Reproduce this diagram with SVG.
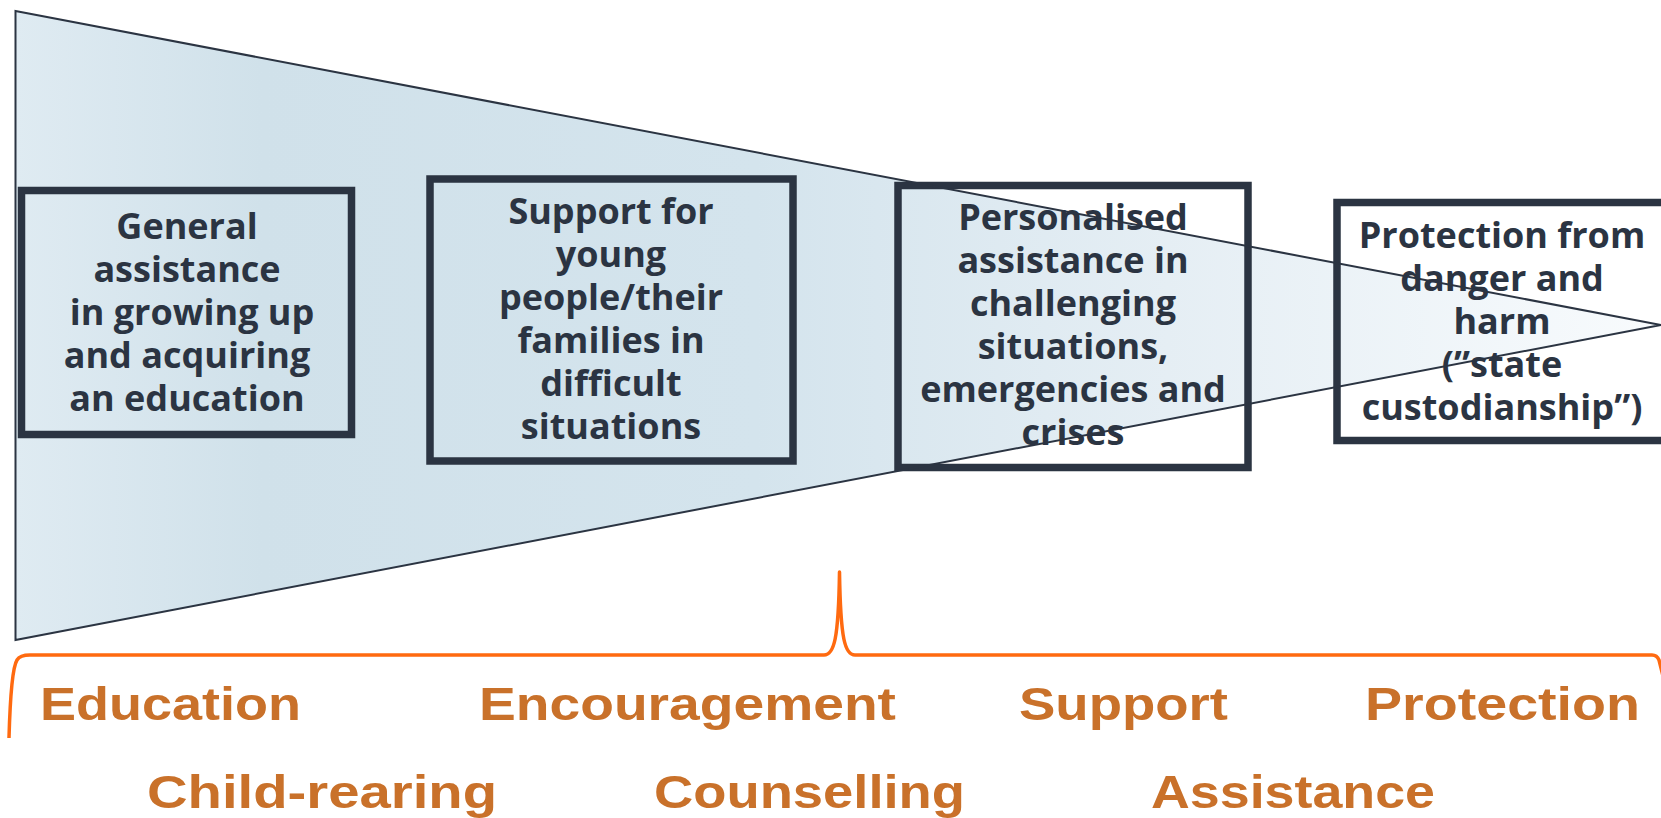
<svg xmlns="http://www.w3.org/2000/svg" width="1661" height="818" viewBox="0 0 1661 818">
<defs>
<linearGradient id="funnelGrad" gradientUnits="userSpaceOnUse" x1="15" y1="0" x2="1661" y2="0">
<stop offset="0" stop-color="#dfebf2"/>
<stop offset="0.15" stop-color="#d0e1ea"/>
<stop offset="0.45" stop-color="#d4e4ed"/>
<stop offset="0.7" stop-color="#e5eef4"/>
<stop offset="1" stop-color="#f8fbfd"/>
</linearGradient>
<style>
.box{fill:none;stroke:#2b3442;stroke-width:7.5}
.nt{font-family:"Open Sans","DejaVu Sans",sans-serif;font-weight:700;font-size:36px;fill:#2b3442;text-anchor:middle}
.bt{font-family:"Liberation Sans",Arial,sans-serif;font-weight:700;font-size:46px;fill:#c9712a}
.outline{fill:none;stroke:#2b3442;stroke-width:2;stroke-linejoin:miter}
.brace{fill:none;stroke:#ff6a10;stroke-width:3.5;stroke-linecap:butt;stroke-linejoin:round}
</style>
</defs>
<rect width="1661" height="818" fill="#ffffff"/>
<g id="funnel">
<path d="M15.5,11 L1661,325 L15.5,640 Z" fill="url(#funnelGrad)"/>
</g>
<g id="node1">
<rect class="box" x="21.5" y="190.5" width="330" height="244"/>
<text class="nt"><tspan x="187" y="239">General</tspan><tspan x="187" y="282">assistance</tspan><tspan x="192" y="325">in growing up</tspan><tspan x="187" y="368">and acquiring</tspan><tspan x="187" y="411">an education</tspan></text>
</g>
<g id="node2">
<rect class="box" x="430" y="179" width="363" height="282"/>
<text class="nt"><tspan x="611" y="224">Support for</tspan><tspan x="611" y="267">young</tspan><tspan x="611" y="310">people/their</tspan><tspan x="611" y="353">families in</tspan><tspan x="611" y="396">difficult</tspan><tspan x="611" y="439">situations</tspan></text>
</g>
<g id="node3">
<rect class="box" x="898" y="185.5" width="350" height="282"/>
<text class="nt"><tspan x="1073" y="230">Personalised</tspan><tspan x="1073" y="273">assistance in</tspan><tspan x="1073" y="316">challenging</tspan><tspan x="1073" y="359">situations,</tspan><tspan x="1073" y="402">emergencies and</tspan><tspan x="1073" y="445">crises</tspan></text>
</g>
<g id="node4">
<rect class="box" x="1337" y="202.5" width="332" height="238"/>
<text class="nt"><tspan x="1502" y="248">Protection from</tspan><tspan x="1502" y="291">danger and</tspan><tspan x="1502" y="334">harm</tspan><tspan x="1502" y="377">(”state</tspan><tspan x="1502" y="420">custodianship”)</tspan></text>
</g>
<g id="connectors">
<path class="outline" d="M15.5,11 L1661,325 L15.5,640 Z"/>
<path class="brace" d="M9,738 C10,702 12,668 17,660 Q20,655 30,655 L824,655 C834,655 838.5,640 839.5,572 C840.5,640 845,655 855,655 L1652,655 Q1657,655 1659,660 L1664,680"/>
</g>
<g id="labels">
<text class="bt" x="40" y="720" textLength="261" lengthAdjust="spacingAndGlyphs">Education</text>
<text class="bt" x="479" y="720" textLength="417" lengthAdjust="spacingAndGlyphs">Encouragement</text>
<text class="bt" x="1019" y="720" textLength="209" lengthAdjust="spacingAndGlyphs">Support</text>
<text class="bt" x="1365" y="720" textLength="275" lengthAdjust="spacingAndGlyphs">Protection</text>
<text class="bt" x="147" y="808" textLength="350" lengthAdjust="spacingAndGlyphs">Child-rearing</text>
<text class="bt" x="654" y="808" textLength="311" lengthAdjust="spacingAndGlyphs">Counselling</text>
<text class="bt" x="1151" y="808" textLength="284" lengthAdjust="spacingAndGlyphs">Assistance</text>
</g>
</svg>
